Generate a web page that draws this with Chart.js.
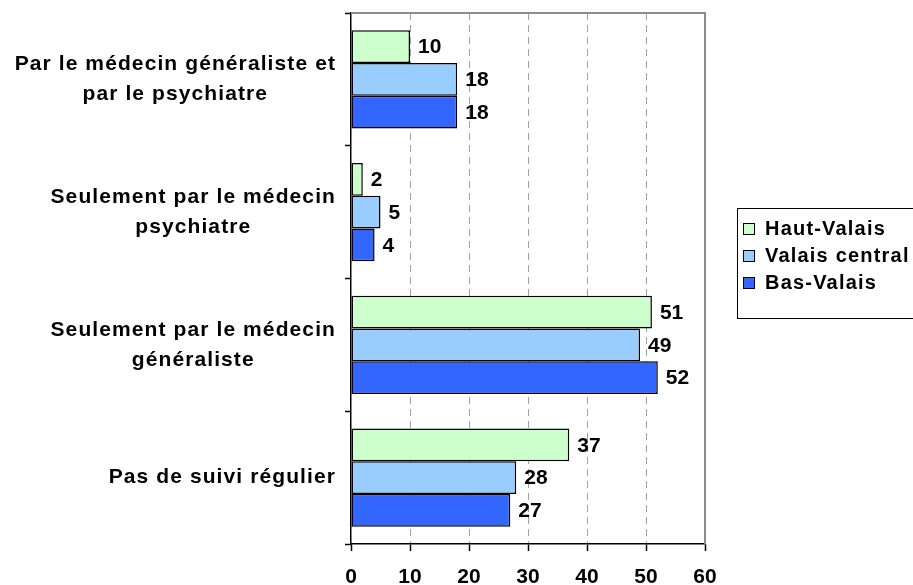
<!DOCTYPE html>
<html>
<head>
<meta charset="utf-8">
<script src="https://cdn.jsdelivr.net/npm/chart.js@4/dist/chart.umd.min.js"></script>
<style>
html,body{margin:0;padding:0;background:#fff;}
#wrap{width:913px;height:585px;}
</style>
</head>
<body>
<div id="wrap"><canvas id="c" width="913" height="585"></canvas></div>
<script>
const categories = [
  ["Par le médecin généraliste et", "par le psychiatre"],
  ["Seulement par le médecin", "psychiatre"],
  ["Seulement par le médecin", "généraliste"],
  ["Pas de suivi régulier"]
];
const seriesNames = ["Haut-Valais", "Valais central", "Bas-Valais"];
const hautValais = [10, 2, 51, 37];
const valaisCentral = [18, 5, 49, 28];
const basValais = [18, 4, 52, 27];
const xTicks = [0, 10, 20, 30, 40, 50, 60];
const colors = ["#CCFFCC", "#99CCFF", "#3366FF"];

const FONT = "'Liberation Sans', Arial, sans-serif";
Chart.defaults.font.family = FONT;
Chart.defaults.color = "#000";

const valueLabels = {
  id: "valueLabels",
  afterDatasetsDraw(chart) {
    const ctx = chart.ctx;
    ctx.save();
    ctx.font = "bold 21px " + FONT;
    ctx.fillStyle = "#000";
    ctx.textAlign = "left";
    ctx.textBaseline = "middle";
    chart.data.datasets.forEach((ds, di) => {
      const meta = chart.getDatasetMeta(di);
      meta.data.forEach((bar, i) => {
        ctx.fillText(String(ds.data[i]), bar.x + 8, bar.y + 1);
      });
    });
    ctx.restore();
  }
};

const categoryLabels = {
  id: "categoryLabels",
  afterDraw(chart) {
    const ctx = chart.ctx;
    const yScale = chart.scales.y;
    ctx.save();
    ctx.font = "bold 21px " + FONT;
    if ("letterSpacing" in ctx) ctx.letterSpacing = "1.1px";
    ctx.fillStyle = "#000";
    ctx.textAlign = "center";
    ctx.textBaseline = "middle";
    const lineH = 30;
    const rightEdge = 336;
    chart.data.labels.forEach((lab, i) => {
      const lines = Array.isArray(lab) ? lab : [lab];
      const blockW = Math.max(...lines.map(l => ctx.measureText(l).width));
      const cx = rightEdge - blockW / 2;
      const cy = yScale.getPixelForValue(i);
      const y0 = cy - (lines.length - 1) * lineH / 2;
      lines.forEach((l, k) => ctx.fillText(l, cx, y0 + k * lineH));
    });
    ctx.restore();
  }
};

const frameAndLegend = {
  id: "frameAndLegend",
  beforeDatasetsDraw(chart) {
    const {ctx, chartArea: a} = chart;
    ctx.save();
    ctx.strokeStyle = "#8c8c8c";
    ctx.lineWidth = 2;
    ctx.beginPath();
    ctx.moveTo(a.left, a.top);
    ctx.lineTo(a.right, a.top);
    ctx.lineTo(a.right, a.bottom);
    ctx.stroke();
    ctx.restore();
  },
  afterDraw(chart) {
    const ctx = chart.ctx;
    ctx.save();
    ctx.strokeStyle = "#000";
    ctx.lineWidth = 1;
    ctx.strokeRect(737.5, 208.5, 200, 110);
    ctx.font = "bold 20px " + FONT;
    if ("letterSpacing" in ctx) ctx.letterSpacing = "1.2px";
    ctx.textAlign = "left";
    ctx.textBaseline = "middle";
    chart.data.datasets.forEach((ds, i) => {
      const cy = 229 + i * 27;
      ctx.fillStyle = ds.backgroundColor;
      ctx.fillRect(743, cy - 6, 12, 12);
      ctx.strokeRect(743.5, cy - 5.5, 11, 11);
      ctx.fillStyle = "#000";
      ctx.fillText(ds.label, 765, cy);
    });
    ctx.restore();
  }
};

new Chart(document.getElementById("c"), {
  type: "bar",
  data: {
    labels: categories,
    datasets: [
      {label: seriesNames[0], data: hautValais, backgroundColor: colors[0]},
      {label: seriesNames[1], data: valaisCentral, backgroundColor: colors[1]},
      {label: seriesNames[2], data: basValais, backgroundColor: colors[2]}
    ]
  },
  options: {
    indexAxis: "y",
    responsive: false,
    animation: false,
    layout: {padding: {left: 0, top: 13, right: 208, bottom: 0}},
    datasets: {
      bar: {
        categoryPercentage: 0.74,
        barPercentage: 1,
        borderColor: "#000",
        borderWidth: 1.5,
        borderSkipped: false
      }
    },
    plugins: {
      legend: {display: false},
      tooltip: {enabled: false}
    },
    scales: {
      x: {
        min: 0,
        max: 60,
        afterBuildTicks(scale) { scale.ticks = xTicks.map(v => ({value: v})); },
        afterFit(scale) { scale.height = 41; scale.paddingLeft = 0; scale.paddingRight = 0; },
        ticks: {
          font: {size: 21, weight: "bold"},
          color: "#000",
          padding: 14
        },
        grid: {
          color: (c) => (c.tick && (c.tick.value === 0 || c.tick.value === 60)) ? "rgba(0,0,0,0)" : "#a0a0a0",
          lineWidth: 1,
          tickColor: "#000",
          tickLength: 7,
          tickWidth: 1.5,
          tickBorderDash: []
        },
        border: {display: true, color: "#000", width: 1.5, dash: [7, 5]}
      },
      y: {
        afterFit(scale) { scale.width = 351; scale.paddingTop = 0; scale.paddingBottom = 0; },
        ticks: {
          display: false
        },
        grid: {
          offset: true,
          drawOnChartArea: false,
          tickColor: "#000",
          tickLength: 6,
          tickWidth: 1.5
        },
        border: {display: true, color: "#000", width: 1.5}
      }
    }
  },
  plugins: [valueLabels, categoryLabels, frameAndLegend]
});
</script>
</body>
</html>
